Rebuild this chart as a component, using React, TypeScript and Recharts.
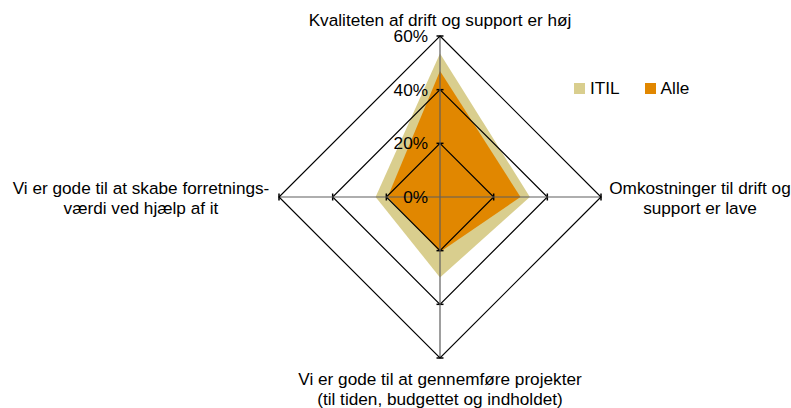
import React from "react";
import { RadarChart, Radar, PolarAngleAxis, PolarRadiusAxis, Legend } from "recharts";

const categories = [
  "Kvaliteten af drift og support er høj",
  "Omkostninger til drift og support er lave",
  "Vi er gode til at gennemføre projekter (til tiden, budgettet og indholdet)",
  "Vi er gode til at skabe forretnings-værdi ved hjælp af it",
];
const categoryLines = [
  ["Kvaliteten af drift og support er høj"],
  ["Omkostninger til drift og", "support er lave"],
  ["Vi er gode til at gennemføre projekter", "(til tiden, budgettet og indholdet)"],
  ["Vi er gode til at skabe forretnings-", "værdi ved hjælp af it"],
];
const itilValues = [53.5, 33.5, 30, 24];
const alleValues = [47, 30, 20.5, 19.5];
const radiusTicks = [0, 20, 40, 60];

const ITIL_COLOR = "#D9CE8E";
const ALLE_COLOR = "#E18700";
const FONT = "Liberation Sans, Arial, sans-serif";
const FS = 17.2;

const ringKeys = radiusTicks.filter((t) => t > 0).map((t) => `ring${t}`);

const data = categories.map((c, i) => {
  const row: any = { category: c, ITIL: itilValues[i], Alle: alleValues[i] };
  radiusTicks.filter((t) => t > 0).forEach((t) => {
    row[`ring${t}`] = t;
  });
  return row;
});

const RingShape = (props: any) => {
  const { points, outer } = props;
  if (!points || !points.length) return null;
  const d = points.map((p: any, i: number) => `${i === 0 ? "M" : "L"}${p.x},${p.y}`).join(" ") + " Z";
  return (
    <g>
      {outer &&
        points.map((p: any, i: number) => (
          <line key={`s${i}`} x1={p.cx} y1={p.cy} x2={p.x} y2={p.y} stroke="#5e5e5e" strokeWidth={1.2} />
        ))}
      <path d={d} fill="none" stroke="#000" strokeWidth={1.2} />
      {points.map((p: any, i: number) => {
        const dx = p.x - p.cx;
        const dy = p.y - p.cy;
        const len = Math.sqrt(dx * dx + dy * dy) || 1;
        const nx = (-dy / len) * 3.5;
        const ny = (dx / len) * 3.5;
        return (
          <line key={`t${i}`} x1={p.x - nx} y1={p.y - ny} x2={p.x + nx} y2={p.y + ny} stroke="#000" strokeWidth={1.5} />
        );
      })}
    </g>
  );
};

const AngleTick = (props: any) => {
  const { x, y, payload } = props;
  const idx = categories.indexOf(payload.value);
  const lines = categoryLines[idx] || [String(payload.value)];
  let cx = x;
  let baselines: number[] = [];
  if (idx === 0) {
    baselines = [y - 2.5];
  } else if (idx === 1) {
    cx = x + 91;
    baselines = [y - 3, y + 17];
  } else if (idx === 2) {
    baselines = [y + 19, y + 38.5];
  } else {
    cx = x - 130;
    baselines = [y - 3, y + 16.5];
  }
  return (
    <g>
      {lines.map((l, i) => (
        <text key={i} x={cx} y={baselines[i]} textAnchor="middle" fontSize={FS} fontFamily={FONT} fill="#000">
          {l}
        </text>
      ))}
    </g>
  );
};

const RadiusTick = (props: any) => {
  const { x, y, payload } = props;
  return (
    <g>
      <text x={x - 12} y={y + 6} textAnchor="end" fontSize={FS} fontFamily={FONT} fill="#000">
        {payload.value}%
      </text>
    </g>
  );
};

const LegendContent = () => (
  <div style={{ display: "flex", alignItems: "center", fontFamily: FONT, fontSize: FS, color: "#000" }}>
    <span style={{ display: "inline-block", width: 11, height: 11, background: ITIL_COLOR, marginRight: 5 }} />
    <span style={{ marginRight: 25 }}>ITIL</span>
    <span style={{ display: "inline-block", width: 11, height: 11, background: ALLE_COLOR, marginRight: 5 }} />
    <span>Alle</span>
  </div>
);

export default function App() {
  return (
    <div style={{ position: "absolute", left: 0, top: 0, width: 791, height: 408, background: "#fff" }}>
      <RadarChart
        width={791}
        height={408}
        data={data}
        cx={440}
        cy={197}
        outerRadius={161}
        startAngle={90}
        endAngle={-270}
        margin={{ top: 0, right: 0, bottom: 0, left: 0 }}
      >
        <PolarAngleAxis dataKey="category" tick={<AngleTick />} tickLine={false} axisLine={false} />
        <PolarRadiusAxis
          angle={90}
          domain={[0, 60]}
          ticks={radiusTicks}
          tickCount={4}
          tick={<RadiusTick />}
          axisLine={false}
        />
        <Radar
          dataKey="ITIL"
          name="ITIL"
          fill={ITIL_COLOR}
          fillOpacity={1}
          stroke="none"
          isAnimationActive={false}
        />
        <Radar
          dataKey="Alle"
          name="Alle"
          fill={ALLE_COLOR}
          fillOpacity={1}
          stroke="none"
          isAnimationActive={false}
        />
        {ringKeys.map((k, i) => (
          <Radar
            key={k}
            dataKey={k}
            legendType="none"
            fill="none"
            stroke="none"
            isAnimationActive={false}
            shape={<RingShape outer={i === ringKeys.length - 1} />}
          />
        ))}
        <Legend
          content={<LegendContent />}
          wrapperStyle={{ position: "absolute", left: 574, top: 78, width: 140 }}
        />
      </RadarChart>
    </div>
  );
}
